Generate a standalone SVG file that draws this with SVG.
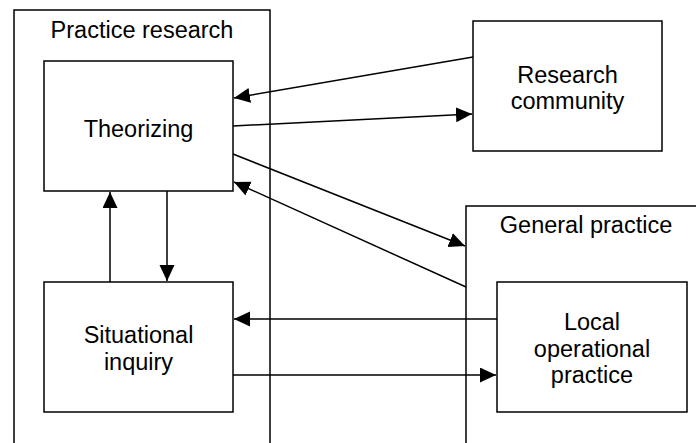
<svg xmlns="http://www.w3.org/2000/svg" width="696" height="443" viewBox="0 0 696 443">
<style>
.box{fill:none;stroke:#000;stroke-width:1.5}
.lbl{font-family:"Liberation Sans",Arial,sans-serif;font-size:23.5px;fill:#000;text-anchor:middle}
.con{fill:none;stroke:#000;stroke-width:1.5;marker-end:url(#ah)}
</style>
<defs>
<marker id="ah" markerUnits="userSpaceOnUse" markerWidth="17" markerHeight="16" refX="16" refY="7.5" orient="auto">
<path d="M0,0 L16,7.5 L0,15 z" fill="#000"/>
</marker>
</defs>
<rect width="696" height="443" fill="#fff"/>
<g id="practice-research">
<rect class="box" x="14" y="10" width="256" height="450"/>
<text class="lbl" x="142" y="38">Practice research</text>
</g>
<g id="general-practice">
<rect class="box" x="466" y="206" width="240" height="260"/>
<text class="lbl" x="586" y="233">General practice</text>
</g>
<g id="theorizing">
<rect class="box" x="44" y="61" width="189" height="130"/>
<text class="lbl" x="138.5" y="137">Theorizing</text>
</g>
<g id="situational-inquiry">
<rect class="box" x="44" y="282" width="189" height="130"/>
<text class="lbl" x="138.5" y="343">Situational</text>
<text class="lbl" x="138.5" y="370">inquiry</text>
</g>
<g id="research-community">
<rect class="box" x="473" y="21" width="189" height="130"/>
<text class="lbl" x="567.5" y="83">Research</text>
<text class="lbl" x="567.5" y="109">community</text>
</g>
<g id="local-operational-practice">
<rect class="box" x="497" y="282" width="190" height="130"/>
<text class="lbl" x="592" y="330">Local</text>
<text class="lbl" x="592" y="357">operational</text>
<text class="lbl" x="592" y="383">practice</text>
</g>
<g id="connectors">
<line class="con" x1="473" y1="57" x2="234" y2="98"/>
<line class="con" x1="233" y1="126" x2="472" y2="114"/>
<line class="con" x1="233" y1="154" x2="465" y2="246"/>
<line class="con" x1="466" y1="287" x2="234" y2="182"/>
<line class="con" x1="110" y1="282" x2="110" y2="192"/>
<line class="con" x1="167" y1="191" x2="167" y2="281"/>
<line class="con" x1="497" y1="319" x2="234" y2="319"/>
<line class="con" x1="233" y1="375" x2="496" y2="375"/>
</g>
</svg>
